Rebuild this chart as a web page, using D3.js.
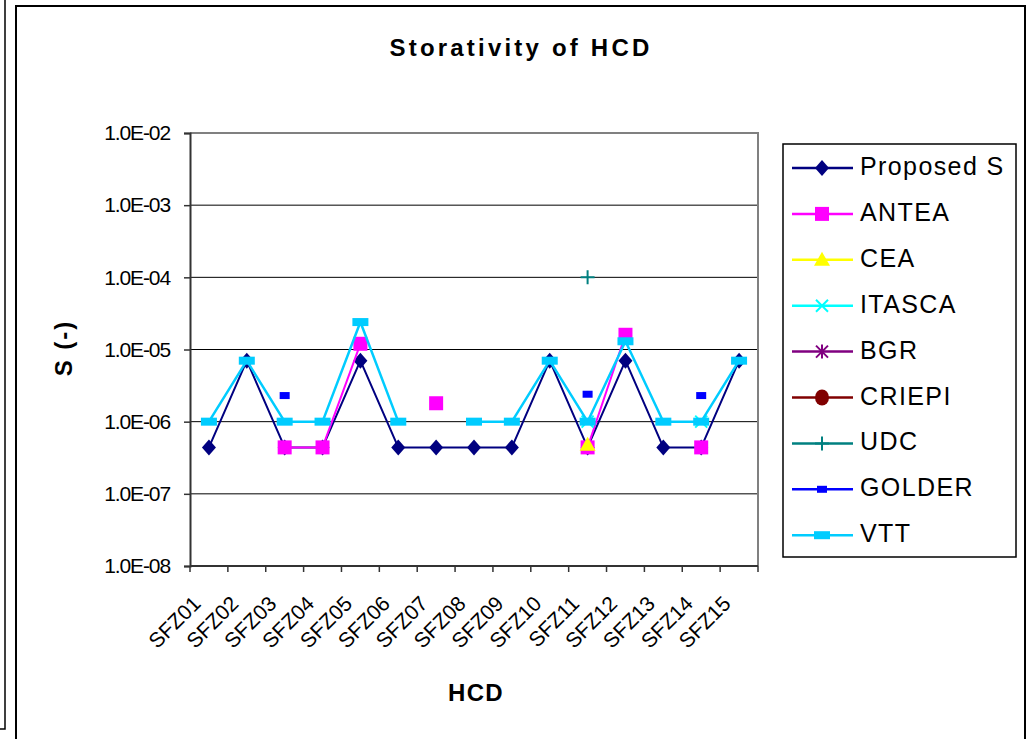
<!DOCTYPE html>
<html>
<head>
<meta charset="utf-8">
<script src="https://cdn.jsdelivr.net/npm/d3@7"></script>
<style>
html,body{margin:0;padding:0;background:#fff;}
svg{display:block;font-family:Arial,"Liberation Sans",sans-serif;}
</style>
</head>
<body>
<svg id="c" width="1032" height="739"></svg>
<script>
const categories = ["SFZ01","SFZ02","SFZ03","SFZ04","SFZ05","SFZ06","SFZ07","SFZ08","SFZ09","SFZ10","SFZ11","SFZ12","SFZ13","SFZ14","SFZ15"];
const proposedS = [4.4e-7,7e-6,4.4e-7,4.4e-7,7e-6,4.4e-7,4.4e-7,4.4e-7,4.4e-7,7e-6,4.4e-7,7e-6,4.4e-7,4.4e-7,7e-6];
const antea = [null,null,4.4e-7,4.4e-7,1.2e-5,null,1.8e-6,null,null,null,4.4e-7,1.6e-5,null,4.4e-7,null];
const cea = [null,null,null,null,null,null,null,null,null,null,4.8e-7,null,null,null,null];
const itasca = [null,null,null,null,null,null,null,null,null,null,1e-6,null,null,1e-6,null];
const bgr = [null,null,null,null,null,null,null,null,null,null,null,null,null,null,null];
const criepi = [null,null,null,null,null,null,null,null,null,null,null,null,null,null,null];
const udc = [null,null,null,null,null,null,null,null,null,null,1e-4,null,null,null,null];
const golder = [null,null,2.3e-6,null,null,null,null,null,null,null,2.4e-6,null,null,2.3e-6,null];
const vtt = [1e-6,7e-6,1e-6,1e-6,2.4e-5,1e-6,null,1e-6,1e-6,7e-6,1e-6,1.3e-5,1e-6,1e-6,7e-6];
const yTicks = [1e-8,1e-7,1e-6,1e-5,1e-4,1e-3,1e-2];
const seriesNames = ["Proposed S","ANTEA","CEA","ITASCA","BGR","CRIEPI","UDC","GOLDER","VTT"];

const series = [
  {name:seriesNames[0], values:proposedS, color:"#000080", marker:"diamond", lw:2},
  {name:seriesNames[1], values:antea, color:"#FF00FF", marker:"square", lw:2},
  {name:seriesNames[2], values:cea, color:"#FFFF00", marker:"triangle", lw:2},
  {name:seriesNames[3], values:itasca, color:"#00FFFF", marker:"x", lw:2},
  {name:seriesNames[4], values:bgr, color:"#800080", marker:"star", lw:2},
  {name:seriesNames[5], values:criepi, color:"#800000", marker:"circle", lw:2},
  {name:seriesNames[6], values:udc, color:"#008080", marker:"plus", lw:2},
  {name:seriesNames[7], values:golder, color:"#0000FF", marker:"rect", lw:2},
  {name:seriesNames[8], values:vtt, color:"#00CCFF", marker:"wrect", lw:2.5}
];

const svg = d3.select("#c");
const L=190, R=758, T=133, B=566;
const x = d3.scaleBand().domain(categories).range([L,R]);
const y = d3.scaleLog().domain([1e-8,1e-2]).range([B,T]);

// frames
svg.append("path").attr("d","M5,0 V729 H0").attr("fill","none").attr("stroke","#000").attr("stroke-width",1.5);
svg.append("rect").attr("x",16).attr("y",6).attr("width",1009).attr("height",740).attr("fill","#fff").attr("stroke","#000").attr("stroke-width",2);

// gridlines
svg.append("g").selectAll("line").data(yTicks.filter(d=>d>1e-8 && d<1e-2)).join("line")
  .attr("x1",L).attr("x2",R).attr("y1",d=>y(d)).attr("y2",d=>y(d))
  .attr("stroke","#000").attr("stroke-width",1);
// plot border top/right
svg.append("path").attr("d",`M${L},${T} H${R} V${B}`).attr("fill","none").attr("stroke","#808080").attr("stroke-width",2);

// y axis
const fmt = d=>{const e=Math.round(Math.log10(d));return "1.0E"+(e<0?"-":"+")+String(Math.abs(e)).padStart(2,"0");};
const gy = svg.append("g").attr("transform",`translate(${L},0)`)
  .call(d3.axisLeft(y).tickValues(yTicks).tickFormat(fmt).tickSize(6).tickPadding(14));
gy.select(".domain").attr("stroke","#333").attr("stroke-width",2);
gy.selectAll(".tick line").attr("stroke","#333").attr("stroke-width",1.5);
gy.selectAll("text").attr("font-size","21px").attr("letter-spacing","-1.1px").attr("fill","#000")
  .attr("font-family","Arial,'Liberation Sans',sans-serif");

// x axis
const gx = svg.append("g").attr("transform",`translate(0,${B})`);
gx.append("line").attr("x1",L).attr("x2",R).attr("y1",0).attr("y2",0).attr("stroke","#333").attr("stroke-width",2);
const bounds = categories.map(c=>x(c)).concat([R]);
gx.selectAll("line.tk").data(bounds).join("line").attr("class","tk")
  .attr("x1",d=>d).attr("x2",d=>d).attr("y1",0).attr("y2",6).attr("stroke","#333").attr("stroke-width",1.5);
gx.selectAll("text").data(categories).join("text")
  .attr("transform",d=>`translate(${x(d)+x.bandwidth()/2-7},${39}) rotate(-45)`)
  .attr("text-anchor","end").attr("font-size","21px").text(d=>d);

// series lines and markers
const line = d3.line().defined(d=>d.v!=null).x(d=>x(d.c)+x.bandwidth()/2).y(d=>y(d.v));
function marker(g, type, color, cx, cy){
  switch(type){
    case "diamond": g.append("path").attr("d",`M${cx},${cy-8}L${cx+7},${cy}L${cx},${cy+8}L${cx-7},${cy}Z`).attr("fill",color); break;
    case "square": g.append("rect").attr("x",cx-7).attr("y",cy-7).attr("width",14).attr("height",14).attr("fill",color); break;
    case "triangle": g.append("path").attr("d",`M${cx},${cy-8}L${cx+8},${cy+6}L${cx-8},${cy+6}Z`).attr("fill",color); break;
    case "x": g.append("path").attr("d",`M${cx-6},${cy-6}L${cx+6},${cy+6}M${cx-6},${cy+6}L${cx+6},${cy-6}`).attr("stroke",color).attr("stroke-width",2); break;
    case "star": g.append("path").attr("d",`M${cx-6},${cy-6}L${cx+6},${cy+6}M${cx-6},${cy+6}L${cx+6},${cy-6}M${cx},${cy-7}V${cy+7}`).attr("stroke",color).attr("stroke-width",2); break;
    case "circle": g.append("ellipse").attr("cx",cx).attr("cy",cy).attr("rx",7).attr("ry",8).attr("fill",color); break;
    case "plus": g.append("path").attr("d",`M${cx-7},${cy}H${cx+7}M${cx},${cy-7}V${cy+7}`).attr("stroke",color).attr("stroke-width",2); break;
    case "rect": g.append("rect").attr("x",cx-5).attr("y",cy-3.5).attr("width",10).attr("height",7).attr("fill",color); break;
    case "wrect": g.append("rect").attr("x",cx-8).attr("y",cy-4).attr("width",16).attr("height",8).attr("fill",color); break;
  }
}
series.forEach(s=>{
  const pts = categories.map((c,i)=>({c, v:s.values[i]}));
  const g = svg.append("g");
  g.append("path").datum(pts).attr("d",line).attr("fill","none").attr("stroke",s.color).attr("stroke-width",s.lw).attr("stroke-linejoin","round");
  pts.filter(p=>p.v!=null).forEach(p=>marker(g,s.marker,s.color,x(p.c)+x.bandwidth()/2,y(p.v)));
});

// title & axis titles
svg.append("text").attr("x",521).attr("y",56).attr("text-anchor","middle").attr("font-weight","bold")
  .attr("font-size","24px").attr("letter-spacing","3.2px").text("Storativity of HCD");
svg.append("text").attr("transform",`translate(72,348) rotate(-90)`).attr("text-anchor","middle").attr("font-weight","bold")
  .attr("font-size","24px").attr("letter-spacing","2px").text("S (-)");
svg.append("text").attr("x",(L+R)/2+2).attr("y",701).attr("text-anchor","middle").attr("font-weight","bold")
  .attr("font-size","24px").attr("letter-spacing","1.3px").text("HCD");

// legend
const lg = svg.append("g");
lg.append("rect").attr("x",783).attr("y",144).attr("width",233).attr("height",413).attr("fill","#fff").attr("stroke","#000").attr("stroke-width",1.5);
series.forEach((s,i)=>{
  const yy = 168 + i*45.9;
  const gi = lg.append("g");
  gi.append("line").attr("x1",792).attr("x2",853).attr("y1",yy).attr("y2",yy).attr("stroke",s.color).attr("stroke-width",2.5);
  marker(gi,s.marker,s.color,822,yy);
  gi.append("text").attr("x",860).attr("y",yy+7).attr("font-size","25px").attr("letter-spacing","1.4px").text(s.name);
});
</script>
</body>
</html>
